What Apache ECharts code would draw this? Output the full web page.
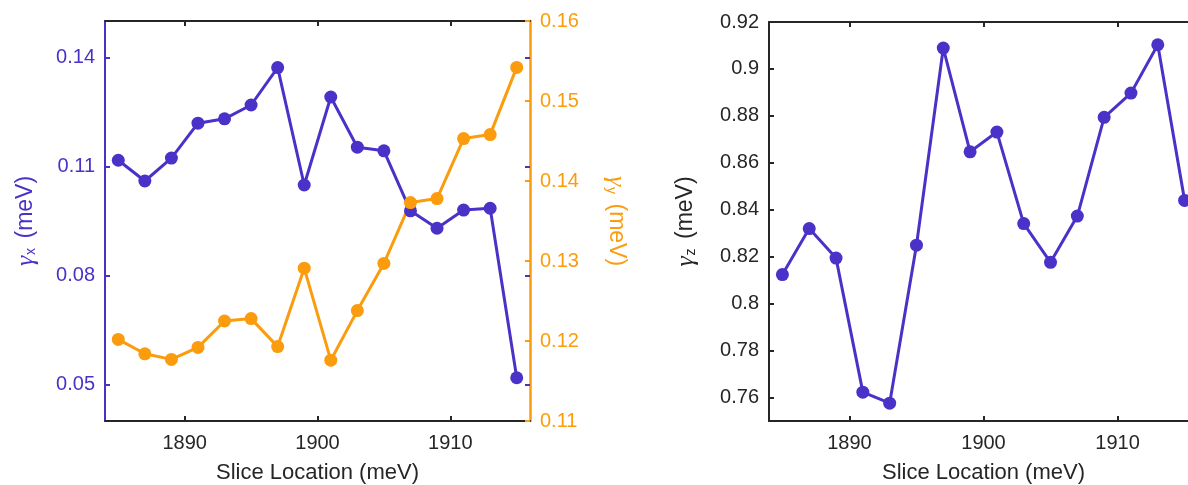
<!DOCTYPE html>
<html>
<head>
<meta charset="utf-8">
<script src="https://cdn.jsdelivr.net/npm/echarts@6/dist/echarts.min.js"></script>
<style>
  html, body { margin: 0; padding: 0; background: #fff; }
  #chart { width: 1188px; height: 485px; }
</style>
</head>
<body>
<div id="chart"></div>
<script>
// slice locations (meV)
const sliceLoc = [1885, 1887, 1889, 1891, 1893, 1895, 1897, 1899, 1901, 1903, 1905, 1907, 1909, 1911, 1913, 1915]
// linewidths (meV)
const gammaX = [0.1117, 0.1060, 0.1123, 0.1219, 0.1231, 0.1269, 0.1372, 0.1049, 0.1291, 0.1153, 0.1143, 0.0978, 0.0930, 0.0980, 0.0985, 0.0519]
const gammaY = [0.1202, 0.1184, 0.1177, 0.1192, 0.1225, 0.1228, 0.1193, 0.1291, 0.1176, 0.1238, 0.1297, 0.1373, 0.1378, 0.1453, 0.1458, 0.1542]
const gammaZ = [0.8124, 0.8320, 0.8194, 0.7623, 0.7576, 0.8249, 0.9089, 0.8647, 0.8731, 0.8341, 0.8176, 0.8373, 0.8794, 0.8897, 0.9103, 0.8440]
// tick labels
const xTicks = [1890, 1900, 1910]
const xTickLeft = [0.05, 0.08, 0.11, 0.14]
const zTicks = [0.76, 0.78, 0.8, 0.82, 0.84, 0.86, 0.88, 0.9, 0.92]

const purple = '#4a32c8'
const orange = '#fb9c0e'
const dark = '#262626'
const font = 'Liberation Sans'

const pairs = (ys) => sliceLoc.map((x, i) => [x, ys[i]])

function xAxisOf(gridIndex, top) {
  return {
    type: 'value',
    gridIndex: gridIndex,
    position: top ? 'top' : 'bottom',
    min: 1884,
    max: 1916,
    name: top ? '' : 'Slice Location (meV)',
    nameLocation: 'middle',
    nameGap: 41,
    nameTextStyle: { color: dark, fontSize: 22, fontFamily: font },
    splitLine: { show: false },
    axisLine: { show: true, onZero: false, lineStyle: { color: dark, width: 2 } },
    axisTick: { show: true, inside: true, length: 5, customValues: xTicks, lineStyle: { color: dark, width: 2 } },
    axisLabel: {
      show: !top, customValues: xTicks, margin: 12, color: dark, fontSize: 20, fontFamily: font,
      formatter: (v) => String(v)
    }
  }
}

function gammaName(sub) {
  return '{g|γ}{s|' + sub + '}{t| (meV)}'
}
function nameRich(color) {
  return {
    g: { fontStyle: 'italic', fontFamily: 'Liberation Serif', fontSize: 26, color: color },
    s: { fontSize: 14, fontFamily: font, color: color, padding: [11, 3, 0, 1] },
    t: { fontSize: 23, fontFamily: font, color: color }
  }
}

const chart = echarts.init(document.getElementById('chart'), null, { renderer: 'canvas' })

chart.setOption({
  animation: false,
  backgroundColor: '#fff',
  grid: [
    { left: 105, top: 21, width: 425, bottom: 64, containLabel: false, outerBoundsMode: 'none' },
    { left: 769, top: 22, width: 429, bottom: 64, containLabel: false, outerBoundsMode: 'none' }
  ],
  xAxis: [
    xAxisOf(0, false),
    xAxisOf(0, true),
    xAxisOf(1, false),
    xAxisOf(1, true)
  ],
  yAxis: [
    {
      type: 'value',
      gridIndex: 0,
      position: 'left',
      min: 0.04,
      max: 0.15,
      name: gammaName('x'),
      nameLocation: 'middle',
      nameGap: 66,
      nameTextStyle: { rich: nameRich(purple) },
      splitLine: { show: false },
      axisLine: { show: true, lineStyle: { color: purple, width: 2 } },
      axisTick: { show: true, inside: true, length: 5, customValues: xTickLeft, lineStyle: { color: purple, width: 2 } },
      axisLabel: { customValues: xTickLeft, margin: 10, color: purple, fontSize: 20, fontFamily: font }
    },
    {
      type: 'value',
      gridIndex: 0,
      position: 'right',
      min: 0.11,
      max: 0.16,
      interval: 0.01,
      name: gammaName('y'),
      nameLocation: 'middle',
      nameRotate: -90,
      nameGap: 73,
      nameTextStyle: { rich: nameRich(orange) },
      splitLine: { show: false },
      axisLine: { show: true, lineStyle: { color: orange, width: 2.5 } },
      axisTick: { show: true, inside: true, length: 5, lineStyle: { color: orange, width: 2 } },
      axisLabel: { margin: 10, color: orange, fontSize: 20, fontFamily: font }
    },
    {
      // mirrored ticks of the left axis on the right side
      type: 'value',
      gridIndex: 0,
      position: 'right',
      min: 0.04,
      max: 0.15,
      splitLine: { show: false },
      axisLine: { show: false },
      axisTick: { show: true, inside: true, length: 5, customValues: xTickLeft, lineStyle: { color: purple, width: 2 } },
      axisLabel: { show: false }
    },
    {
      type: 'value',
      gridIndex: 1,
      position: 'left',
      min: 0.75,
      max: 0.92,
      name: gammaName('z'),
      nameLocation: 'middle',
      nameGap: 70,
      nameTextStyle: { rich: nameRich(dark) },
      splitLine: { show: false },
      axisLine: { show: true, lineStyle: { color: dark, width: 2 } },
      axisTick: { show: true, inside: true, length: 5, customValues: zTicks, lineStyle: { color: dark, width: 2 } },
      axisLabel: { customValues: zTicks, margin: 10, color: dark, fontSize: 20, fontFamily: font }
    }
  ],
  series: [
    {
      type: 'line',
      xAxisIndex: 0,
      yAxisIndex: 0,
      data: pairs(gammaX),
      symbol: 'circle',
      symbolSize: 13,
      color: purple,
      lineStyle: { width: 3 }
    },
    {
      type: 'line',
      xAxisIndex: 0,
      yAxisIndex: 1,
      data: pairs(gammaY),
      symbol: 'circle',
      symbolSize: 13,
      color: orange,
      lineStyle: { width: 3 }
    },
    {
      type: 'line',
      xAxisIndex: 2,
      yAxisIndex: 3,
      data: pairs(gammaZ),
      symbol: 'circle',
      symbolSize: 13,
      color: purple,
      lineStyle: { width: 3 }
    }
  ]
})
</script>
</body>
</html>
